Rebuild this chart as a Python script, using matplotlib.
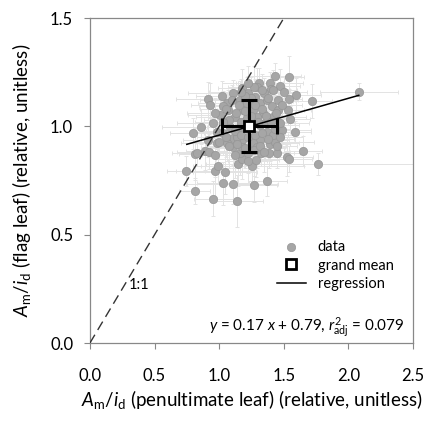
import matplotlib.pyplot as plt
import numpy as np

plt.rcParams['font.family'] = ['Lato', 'DejaVu Sans']
plt.rcParams['mathtext.fontset'] = 'custom'
plt.rcParams['mathtext.rm'] = 'Lato'
plt.rcParams['mathtext.it'] = 'Lato:italic'

# data points (penultimate leaf, flag leaf), relative values
x_pen = [2.08, 1.72, 1.537, 1.433, 1.472, 1.395, 1.312, 1.291, 1.40, 1.591,
         1.54, 1.532, 1.55, 1.488, 1.588, 1.648, 1.524, 1.537, 1.764, 0.917,
         0.93, 1.02, 1.11, 1.162, 1.059, 0.857, 0.80, 0.813, 0.832, 0.891,
         0.925, 0.969, 0.744, 0.969, 0.994, 1.046, 0.813, 1.028, 1.105, 0.956,
         1.136, 1.271, 1.374, 1.149, 1.175, 1.258, 1.286, 1.322, 1.227, 1.162,
         1.382, 1.446, 1.395, 1.433, 0.956, 0.982, 1.033, 1.007, 1.028, 1.072,
         1.123, 1.183, 1.214, 1.265, 1.317, 1.369, 1.408, 1.459, 1.343, 1.42,
         1.317, 1.369, 1.42, 1.317, 1.265, 1.175, 1.11, 1.059, 1.11, 1.175,
         1.085, 1.162, 1.136, 1.291, 1.214, 1.356, 1.472, 1.459, 1.278, 1.348,
         1.175, 1.227, 1.291, 0.982, 0.917,
         1.08, 1.13, 1.17, 1.20, 1.25, 1.28, 1.33, 1.36, 1.30, 1.40,
         1.44, 1.25, 1.20, 1.15, 1.10, 1.05, 1.38, 1.42, 1.33, 1.27,
         1.22, 1.17, 1.49, 1.50, 1.12, 1.17, 1.22, 1.28, 1.33, 1.38,
         1.43, 1.05, 1.08, 1.14, 1.27, 1.32, 1.20, 1.00, 1.03, 1.45,
         1.35, 1.47, 1.12, 1.22, 0.97]
y_flag = [1.161, 1.118, 1.227, 1.233, 1.187, 1.202, 1.199, 1.181, 1.172, 1.144,
          1.125, 1.076, 1.033, 0.983, 0.974, 0.888, 0.86, 0.848, 0.826, 1.125,
          1.099, 1.141, 1.156, 1.122, 1.107, 0.999, 0.968, 0.873, 0.876, 0.888,
          0.883, 0.868, 0.794, 0.795, 0.819, 0.788, 0.703, 0.737, 0.734, 0.667,
          0.655, 0.729, 0.749, 0.826, 0.848, 0.819, 0.845, 0.879, 0.876, 0.876,
          0.876, 0.879, 0.919, 0.93, 1.014, 0.976, 0.968, 1.053, 1.094, 1.076,
          1.045, 1.076, 1.11, 1.076, 1.107, 1.122, 1.094, 1.076, 1.061, 1.045,
          1.007, 0.976, 0.96, 0.937, 0.922, 0.937, 0.945, 0.922, 0.906, 0.906,
          0.999, 0.999, 0.953, 1.045, 1.037, 1.017, 1.014, 1.122, 1.138, 1.153,
          1.176, 1.153, 0.906, 0.922, 0.937,
          1.03, 1.06, 1.02, 1.07, 1.05, 1.10, 1.08, 1.05, 1.02, 1.02,
          1.06, 1.13, 1.14, 1.10, 1.12, 1.08, 1.13, 1.17, 1.17, 1.18,
          1.20, 1.16, 1.10, 1.16, 0.98, 0.96, 0.95, 0.96, 0.97, 0.94,
          0.99, 0.95, 0.91, 0.92, 0.89, 0.91, 0.90, 0.93, 1.02, 0.91,
          0.88, 0.95, 0.87, 0.84, 1.06]
x_err = [0.30, 0.15, 0.12, 0.20, 0.15, 0.25, 0.18, 0.22, 0.14, 0.20,
         0.10, 0.18, 0.15, 0.22, 0.12, 0.15, 0.20, 0.18, 0.75, 0.25,
         0.15, 0.20, 0.35, 0.15, 0.22, 0.30, 0.18, 0.12, 0.20, 0.15,
         0.25, 0.18, 0.15, 0.30, 0.20, 0.25, 0.12, 0.20, 0.35, 0.15,
         0.20, 0.18, 0.15, 0.25, 0.20, 0.40, 0.18, 0.15, 0.22, 0.30,
         0.20, 0.18, 0.15, 0.30, 0.28, 0.20, 0.15, 0.25, 0.18, 0.12,
         0.30, 0.20, 0.15, 0.25, 0.18, 0.22, 0.15, 0.20, 0.12, 0.25,
         0.30, 0.18, 0.15, 0.22, 0.35, 0.20, 0.18, 0.15, 0.25, 0.20,
         0.18, 0.25, 0.15, 0.20, 0.30, 0.18, 0.22, 0.15, 0.20, 0.25,
         0.18, 0.15, 0.22, 0.28, 0.20,
         0.20, 0.15, 0.25, 0.18, 0.22, 0.15, 0.20, 0.12, 0.25, 0.18,
         0.15, 0.22, 0.30, 0.18, 0.25, 0.20, 0.15, 0.18, 0.22, 0.12,
         0.20, 0.25, 0.15, 0.18, 0.22, 0.20, 0.15, 0.25, 0.18, 0.20,
         0.12, 0.22, 0.18, 0.25, 0.15, 0.20, 0.30, 0.18, 0.22, 0.15,
         0.20, 0.18, 0.25, 0.15, 0.22]
y_err = [0.04, 0.08, 0.10, 0.06, 0.08, 0.05, 0.07, 0.09, 0.06, 0.08,
         0.05, 0.07, 0.06, 0.08, 0.05, 0.07, 0.09, 0.06, 0.05, 0.08,
         0.10, 0.07, 0.06, 0.09, 0.05, 0.08, 0.07, 0.12, 0.06, 0.09,
         0.08, 0.10, 0.07, 0.12, 0.08, 0.10, 0.06, 0.10, 0.09, 0.08,
         0.12, 0.08, 0.07, 0.10, 0.09, 0.07, 0.08, 0.06, 0.09, 0.10,
         0.07, 0.06, 0.08, 0.07, 0.09, 0.08, 0.06, 0.10, 0.07, 0.09,
         0.08, 0.06, 0.12, 0.07, 0.09, 0.08, 0.06, 0.07, 0.10, 0.08,
         0.09, 0.07, 0.06, 0.08, 0.10, 0.09, 0.07, 0.08, 0.10, 0.09,
         0.08, 0.07, 0.09, 0.06, 0.08, 0.07, 0.09, 0.06, 0.08, 0.07,
         0.09, 0.08, 0.10, 0.07, 0.08,
         0.07, 0.09, 0.06, 0.08, 0.10, 0.07, 0.08, 0.06, 0.09, 0.07,
         0.08, 0.10, 0.06, 0.09, 0.07, 0.08, 0.06, 0.09, 0.07, 0.10,
         0.08, 0.06, 0.09, 0.07, 0.08, 0.10, 0.07, 0.09, 0.06, 0.08,
         0.07, 0.09, 0.10, 0.08, 0.12, 0.07, 0.09, 0.08, 0.06, 0.10,
         0.09, 0.07, 0.11, 0.10, 0.07]

# grand mean and its spread
mean_x, mean_y = 1.234, 1.0
mean_xerr, mean_yerr = 0.21, 0.12

# regression y = 0.17 x + 0.79
slope, intercept = 0.17, 0.79
reg_x = [0.75, 2.08]

fig = plt.figure(figsize=(4.28, 4.22), dpi=100)
ax = fig.add_axes([0.210, 0.187, 0.755, 0.770])

ax.errorbar(x_pen, y_flag, xerr=x_err, yerr=y_err, fmt='none',
            ecolor='#e3e3e3', elinewidth=0.7, capsize=1.5, capthick=0.7, zorder=1)
ax.scatter(x_pen, y_flag, s=36, color='#a6a6a6', edgecolors='#969696',
           linewidths=0.5, zorder=2, label='data')

ax.plot([0, 1.5], [0, 1.5], color='#333333', lw=1, dashes=(7, 4), zorder=3)
reg_x = np.array(reg_x)
ax.plot(reg_x, slope * reg_x + intercept, color='black', lw=1.1, zorder=3,
        label='regression')

ax.errorbar([mean_x], [mean_y], xerr=[mean_xerr], yerr=[mean_yerr], fmt='none',
            ecolor='black', elinewidth=2.2, capsize=6, capthick=2.2, zorder=4)
ax.plot([mean_x], [mean_y], 's', ms=6.5, mfc='white', mec='black', mew=2,
        zorder=5, label='grand mean', ls='none')

ax.text(0.3, 0.25, '1:1', fontsize=10.5)
ax.text(2.43, 0.02, r'$\mathit{y}$ = 0.17 $\mathit{x}$ + 0.79, $\mathit{r}^{2}_{\mathrm{adj}}$ = 0.079',
        fontsize=11, ha='right', va='bottom')

h, l = ax.get_legend_handles_labels()
order = [l.index('data'), l.index('grand mean'), l.index('regression')]
ax.legend([h[i] for i in order], [l[i] for i in order], loc='lower right',
          bbox_to_anchor=(0.98, 0.12), frameon=False, fontsize=10.5,
          handlelength=2.0, labelspacing=0.3)

ax.set_xlim(0, 2.5)
ax.set_ylim(0, 1.5)
ax.set_xticks([0, 0.5, 1.0, 1.5, 2.0, 2.5])
ax.set_yticks([0, 0.5, 1.0, 1.5])
ax.xaxis.set_major_formatter(plt.FormatStrFormatter('%.1f'))
ax.yaxis.set_major_formatter(plt.FormatStrFormatter('%.1f'))
ax.tick_params(direction='out', length=4, color='#888888', labelsize=12)
ax.tick_params(axis='x', pad=14)
ax.tick_params(axis='y', pad=8)
ax.tick_params(top=False, right=False)
for s in ax.spines.values():
    s.set_color('#888888')
    s.set_linewidth(0.9)

ax.set_xlabel(r'$\mathit{A}_\mathrm{m}/\mathit{i}_\mathrm{d}$ (penultimate leaf) (relative, unitless)',
              fontsize=13.5, labelpad=3)
ax.set_ylabel(r'$\mathit{A}_\mathrm{m}/\mathit{i}_\mathrm{d}$ (flag leaf) (relative, unitless)',
              fontsize=13.5, labelpad=12)

plt.savefig('out.png', dpi=100)
